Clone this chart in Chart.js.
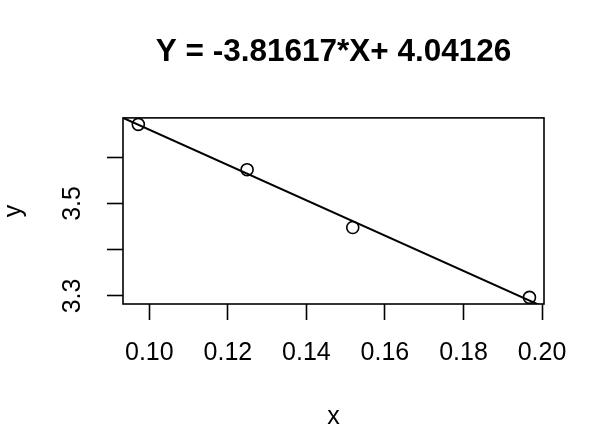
<!DOCTYPE html>
<html>
<head>
<meta charset="utf-8">
<script src="https://cdn.jsdelivr.net/npm/chart.js@4.4.1/dist/chart.umd.min.js"></script>
<style>
  html, body { margin: 0; padding: 0; background: #fff; }
</style>
</head>
<body>
<canvas id="chart" width="605" height="430"></canvas>
<script>
const titleText = 'Y = -3.81617*X+ 4.04126'
const xValues = [0.0972, 0.1249, 0.1518, 0.1968]
const yValues = [3.671, 3.573, 3.448, 3.297]
// fitted line endpoints, read at the plot edges
const fitX = [0.0933, 0.2005]
const fitY = [3.685, 3.276]
const xTicks = [0.10, 0.12, 0.14, 0.16, 0.18, 0.20]
const xTickLabels = ['0.10', '0.12', '0.14', '0.16', '0.18', '0.20']
const yTicks = [3.3, 3.4, 3.5, 3.6]
const yTickLabels = ['3.3', '', '3.5', '']
const xRange = [0.0933, 0.2005]
const yRange = [3.2827, 3.6849]

const font = 'Liberation Sans, Arial, Helvetica, sans-serif'

// R style box round the plot region
const boxPlugin = {
  id: 'box',
  afterDatasetsDraw(chart) {
    const {ctx, chartArea: a} = chart
    ctx.save()
    ctx.strokeStyle = '#000'
    ctx.lineWidth = 1.6
    ctx.strokeRect(a.left, a.top, a.right - a.left, a.bottom - a.top)
    ctx.restore()
  }
}

const axisGrid = {
  display: true,
  drawOnChartArea: false,
  drawTicks: true,
  tickLength: 16,
  tickWidth: 1.6,
  tickColor: '#000',
  color: '#000'
}

const ctx = document.getElementById('chart').getContext('2d')
const chart = new Chart(ctx, {
  type: 'scatter',
  data: {
    datasets: [
      {
        type: 'scatter',
        data: xValues.map((x, i) => ({x: x, y: yValues[i]})),
        pointStyle: 'circle',
        pointRadius: 6,
        pointBorderWidth: 1.6,
        pointBorderColor: '#000',
        pointBackgroundColor: 'rgba(0,0,0,0)'
      },
      {
        type: 'line',
        data: fitX.map((x, i) => ({x: x, y: fitY[i]})),
        borderColor: '#000',
        borderWidth: 2,
        pointRadius: 0,
        fill: false
      }
    ]
  },
  options: {
    responsive: false,
    animation: false,
    layout: { padding: { left: 0, right: 61, top: 0, bottom: 0 } },
    plugins: {
      legend: { display: false },
      tooltip: { enabled: false },
      title: {
        display: true,
        text: titleText,
        fullSize: false,
        color: '#000',
        font: { family: font, size: 31.5, weight: 'bold', lineHeight: 1.2 },
        padding: { top: 33.6, bottom: 46.5 }
      }
    },
    scales: {
      x: {
        type: 'linear',
        min: xRange[0],
        max: xRange[1],
        grid: axisGrid,
        border: { display: false },
        afterBuildTicks: s => { s.ticks = xTicks.map(v => ({value: v})) },
        afterFit: s => { s.height = 126 },
        ticks: {
          color: '#000',
          maxRotation: 0,
          autoSkip: false,
          padding: 18,
          font: { family: font, size: 25 },
          callback: (v, i) => xTickLabels[i]
        },
        title: {
          display: true,
          text: 'x',
          color: '#000',
          font: { family: font, size: 25, lineHeight: 1 },
          padding: { top: 0, bottom: 0 }
        }
      },
      y: {
        type: 'linear',
        min: yRange[0],
        max: yRange[1],
        grid: axisGrid,
        border: { display: false },
        afterBuildTicks: s => { s.ticks = yTicks.map(v => ({value: v})) },
        afterFit: s => { s.width = 123 },
        ticks: {
          color: '#000',
          minRotation: 90,
          maxRotation: 90,
          autoSkip: false,
          crossAlign: 'center',
          padding: 16.5,
          font: { family: font, size: 25 },
          callback: (v, i) => yTickLabels[i]
        },
        title: {
          display: true,
          text: 'y',
          color: '#000',
          font: { family: font, size: 25, lineHeight: 1.1 },
          padding: { top: 0, bottom: 0 }
        }
      }
    }
  },
  plugins: [boxPlugin]
})
</script>
</body>
</html>
